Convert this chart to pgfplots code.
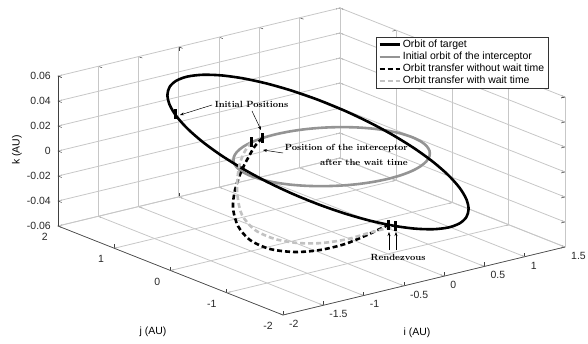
\documentclass[border=0pt]{standalone}
\usepackage{fontspec}
\usepackage{pgfplots}
\pgfplotsset{compat=1.18}
\usetikzlibrary{arrows.meta}
\newfontfamily\arial{Liberation Sans}
\definecolor{orbgray}{gray}{0.58}
\definecolor{waitgray}{gray}{0.76}
\tikzset{gridl/.style={black!22, line width=0.8bp}}
\begin{document}
\begin{tikzpicture}
\begin{axis}[
  x={(80.57bp,19.43bp)}, y={(-56.25bp,22.25bp)}, z={(0bp,12.5bp)},
  z coord trafo/.code={\pgfmathparse{#1*100}},
  z coord inv trafo/.code={\pgfmathparse{#1/100}},
  xmin=-2, xmax=1.5, ymin=-2, ymax=2, zmin=-0.06, zmax=0.06,
  clip=false,
  axis line style={draw=none},
  xtick={-2,-1.5,-1,-0.5,0,0.5,1,1.5},
  xticklabels={-2,-1.5,-1,-0.5,0,0.5,1,1.5},
  ytick={-2,-1,0,1,2}, yticklabels={-2,-1,0,1,2},
  ztick={-0.06,-0.04,-0.02,0,0.02,0.04,0.06},
  zticklabels={-0.06,-0.04,-0.02,0,0.02,0.04,0.06},
  scaled ticks=false,
  tick style={black!75, line width=0.5bp},
  major tick length=4bp,
  tick label style={font=\arial\fontsize{10.5}{12}\selectfont, text=black!85},
  xticklabel style={anchor=north west, inner sep=1bp, xshift=5bp, yshift=-4bp},
  yticklabel style={anchor=north east, inner sep=1bp, xshift=-9bp, yshift=-6bp},
  zticklabel style={anchor=east, inner sep=1bp, xshift=-6bp},
  xlabel={i (AU)}, ylabel={j (AU)}, zlabel={k (AU)},
  every axis x label/.style={at={(axis cs:-1.3176,-3.4049,-0.06)}, anchor=center, font=\arial\fontsize{10.5}{12}\selectfont},
  every axis y label/.style={at={(axis cs:-3.3338,-1.5993,-0.06)}, anchor=center, font=\arial\fontsize{10.5}{12}\selectfont},
  every axis z label/.style={at={(axis cs:-2,2.729,-0.0122)}, anchor=center, rotate=90, font=\arial\fontsize{10.5}{12}\selectfont},
  legend style={at={(axis cs:-0.8457,-2,0.14446)}, anchor=north west, draw=black!80, line width=0.5bp, fill=white,
    font=\arial\fontsize{10.5}{12}\selectfont, inner xsep=2bp, inner ysep=1bp, row sep=-1bp},
  legend cell align=left,
  legend image code/.code={\draw[#1] (0bp,0bp) -- (20bp,0bp);},
]
\coordinate (FC) at (axis cs:-2,-2,-0.06);
% grid on the back walls and the floor
\pgfplotsinvokeforeach{-2,-1.5,-1,-0.5,0,0.5,1,1.5}{
  \draw[gridl] (axis cs:#1,2,-0.06) -- (axis cs:#1,2,0.06);
  \draw[gridl] (axis cs:#1,-2,-0.06) -- (axis cs:#1,2,-0.06);
}
\pgfplotsinvokeforeach{-2,-1,0,1,2}{
  \draw[gridl] (axis cs:1.5,#1,-0.06) -- (axis cs:1.5,#1,0.06);
  \draw[gridl] (axis cs:-2,#1,-0.06) -- (axis cs:1.5,#1,-0.06);
}
\pgfplotsinvokeforeach{-0.06,-0.04,-0.02,0,0.02,0.04,0.06}{
  \draw[gridl] (axis cs:-2,2,#1) -- (axis cs:1.5,2,#1);
  \draw[gridl] (axis cs:1.5,-2,#1) -- (axis cs:1.5,2,#1);
}
\draw[black!75, line width=0.6bp] (axis cs:-2,-2,-0.06) -- (axis cs:1.5,-2,-0.06);
\draw[black!75, line width=0.6bp] (axis cs:-2,-2,-0.06) -- (axis cs:-2,2,-0.06);
\draw[black!75, line width=0.6bp] (axis cs:-2,2,-0.06) -- (axis cs:-2,2,0.06);

% initial orbit of the interceptor (drawn first, legend entry added below)
\addplot3[orbgray, line width=2.6bp, smooth, forget plot] coordinates {
(0.98481,-0.17365,0) (1,0,0) (0.98481,0.17365,0) (0.93969,0.34202,0) (0.86603,0.5,0)
(0.76604,0.64279,0) (0.64279,0.76604,0) (0.5,0.86603,0) (0.34202,0.93969,0) (0.17365,0.98481,0)
(0,1,0) (-0.17365,0.98481,0) (-0.34202,0.93969,0) (-0.5,0.86603,0) (-0.64279,0.76604,0)
(-0.76604,0.64279,0) (-0.86603,0.5,0) (-0.93969,0.34202,0) (-0.98481,0.17365,0) (-1,0,0)
(-0.98481,-0.17365,0) (-0.93969,-0.34202,0) (-0.86603,-0.5,0) (-0.76604,-0.64279,0) (-0.64279,-0.76604,0)
(-0.5,-0.86603,0) (-0.34202,-0.93969,0) (-0.17365,-0.98481,0) (0,-1,0) (0.17365,-0.98481,0)
(0.34202,-0.93969,0) (0.5,-0.86603,0) (0.64279,-0.76604,0) (0.76604,-0.64279,0) (0.86603,-0.5,0)
(0.93969,-0.34202,0) (0.98481,-0.17365,0) (1,0,0) (0.98481,0.17365,0)
};
% orbit of target
\addplot3[black, line width=2.6bp, smooth] coordinates {
(0.6042,0.64298,0.016074) (0.45656,0.89643,0.022411) (0.29242,1.12624,0.028156) (0.11675,1.32541,0.033136)
(-0.06509,1.4879,0.037199) (-0.24761,1.60878,0.04022) (-0.42521,1.68436,0.042109) (-0.59255,1.71238,0.042811)
(-0.74451,1.69193,0.042299) (-0.87649,1.62369,0.040593) (-0.98447,1.50969,0.037743) (-1.06517,1.35341,0.033837)
(-1.11615,1.15961,0.028991) (-1.13585,0.93418,0.023355) (-1.12367,0.68392,0.017099) (-1.07999,0.41652,0.010414)
(-1.00613,0.14002,0.003501) (-0.90431,-0.13713,-0.003428) (-0.77768,-0.40652,-0.010162) (-0.63004,-0.65997,-0.016499)
(-0.4659,-0.88978,-0.022244) (-0.29023,-1.08895,-0.027224) (-0.10839,-1.25144,-0.031287) (0.07413,-1.37232,-0.034308)
(0.25173,-1.4479,-0.036197) (0.41907,-1.47592,-0.036899) (0.57103,-1.45547,-0.036387) (0.70301,-1.38723,-0.034681)
(0.81099,-1.27323,-0.031831) (0.89169,-1.11695,-0.027925) (0.94267,-0.92315,-0.023079) (0.96237,-0.69772,-0.017443)
(0.95019,-0.44746,-0.011187) (0.90651,-0.18006,-0.004502) (0.83265,0.09644,0.002411) (0.73083,0.37359,0.00934)
(0.6042,0.64298,0.016074) (0.45656,0.89643,0.022411) (0.29242,1.12624,0.028156)
};
\addlegendentry{Orbit of target}
\addlegendimage{orbgray, line width=2.6bp}
\addlegendentry{Initial orbit of the interceptor}
% transfer without wait time
\addplot3[black, line width=2.6bp, smooth, dash pattern=on 5bp off 3bp] coordinates {
(-0.17365,0.98481,0) (-0.28606,0.95273,-0.004) (-0.4765,0.80441,-0.008) (-0.7059,0.60025,-0.012)
(-1.00559,0.27769,-0.016) (-1.27441,-0.07181,-0.02) (-1.48929,-0.46846,-0.024) (-1.59658,-0.83546,-0.027)
(-1.54471,-1.11672,-0.03) (-1.36166,-1.29904,-0.032) (-1.10556,-1.3766,-0.033) (-0.79582,-1.37743,-0.033)
(-0.4751,-1.30915,-0.032) (-0.24737,-1.24958,-0.031) (-0.14269,-1.22399,-0.0306)
};
\addlegendentry{Orbit transfer without wait time}
% transfer with wait time
\addplot3[waitgray, line width=2.6bp, smooth, dash pattern=on 5bp off 3bp] coordinates {
(-0.34202,0.93969,0) (-0.46063,0.88047,-0.004) (-0.63566,0.7187,-0.008) (-0.84986,0.4563,-0.012)
(-1.10327,0.09333,-0.016) (-1.34149,-0.32787,-0.02) (-1.43617,-0.69462,-0.024) (-1.38429,-0.97588,-0.027)
(-1.21184,-1.13775,-0.03) (-0.97805,-1.22952,-0.032) (-0.67521,-1.258,-0.033) (-0.37808,-1.25908,-0.032)
(-0.08654,-1.26808,-0.031702)
};
\addlegendentry{Orbit transfer with wait time}
% positions
\addplot3[only marks, mark=|, mark size=5bp, mark options={black, line width=3bp}, forget plot] coordinates {
(-1.10964,1.19493,0.029874) (-0.17365,0.98481,0) (-0.34202,0.93969,0)
(-0.14269,-1.22399,-0.0306) (-0.08654,-1.26808,-0.031702)
};
\end{axis}
\coordinate (TL) at ([shift={(-283bp,315bp)}]FC);
\begin{scope}[every node/.style={font=\bfseries\fontsize{9}{10}\selectfont, inner sep=0pt},
  arr/.style={-{Stealth[length=4bp,width=3bp]}, line width=0.5bp}]
\node at ([shift={(251.5bp,-104bp)}]TL) {Initial Positions};
\draw[arr] ([shift={(212bp,-105bp)}]TL) -- ([shift={(180bp,-115bp)}]TL);
\draw[arr] ([shift={(252bp,-111bp)}]TL) -- ([shift={(261bp,-130bp)}]TL);
\node[anchor=east] at ([shift={(408bp,-148bp)}]TL) {Position of the interceptor};
\node[anchor=east] at ([shift={(408bp,-162bp)}]TL) {after the wait time};
\draw[arr] ([shift={(283bp,-153bp)}]TL) -- ([shift={(263bp,-150bp)}]TL);
\node at ([shift={(398bp,-257bp)}]TL) {Rendezvous};
\draw[arr] ([shift={(389bp,-250bp)}]TL) -- ([shift={(389bp,-232bp)}]TL);
\draw[arr] ([shift={(396bp,-250bp)}]TL) -- ([shift={(396bp,-232bp)}]TL);
\end{scope}
\pgfresetboundingbox
\path[use as bounding box] (TL) rectangle ([shift={(588bp,-344bp)}]TL);
\end{tikzpicture}
\end{document}
